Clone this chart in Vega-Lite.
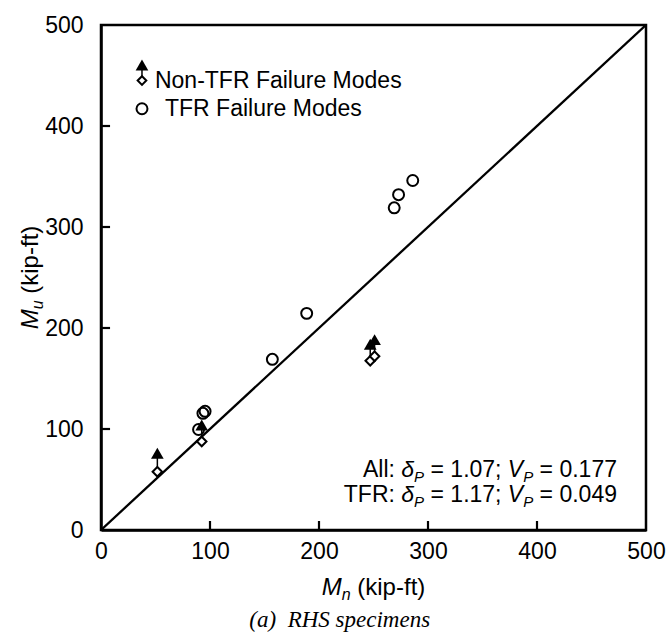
{
  "$schema": "https://vega.github.io/schema/vega-lite/v6.json",
  "width": 545,
  "height": 505,
  "autosize": {"type": "none"},
  "padding": {"left": 101, "top": 25, "right": 22, "bottom": 103},
  "background": "white",
  "config": {
    "font": "Liberation Sans",
    "view": {"stroke": "black", "strokeWidth": 2.5},
    "axis": {
      "grid": false,
      "domainColor": "black",
      "domainWidth": 2.5,
      "ticks": true,
      "tickColor": "black",
      "tickOpacity": 0,
      "tickSize": -9,
      "labelFont": "Liberation Sans",
      "labelFontSize": 23,
      "labelColor": "black",
      "labelFlush": false,
      "labelOverlap": false,
      "title": null
    },
    "axisX": {"labelPadding": 19},
    "axisY": {"labelPadding": 27}
  },
  "datasets": {
    "nontfr": [
      {"Mn": 51.7, "Mu": 57.7, "Mu_bound": 76},
      {"Mn": 92.4, "Mu": 87.6, "Mu_bound": 104},
      {"Mn": 247, "Mu": 167.5, "Mu_bound": 184},
      {"Mn": 251, "Mu": 172, "Mu_bound": 188.5}
    ],
    "tfr": [
      {"Mn": 89.5, "Mu": 99.5},
      {"Mn": 93.5, "Mu": 115.5},
      {"Mn": 95.5, "Mu": 117.5},
      {"Mn": 157.2, "Mu": 169},
      {"Mn": 188.7, "Mu": 214.5},
      {"Mn": 269, "Mu": 319},
      {"Mn": 273, "Mu": 332},
      {"Mn": 286, "Mu": 346}
    ],
    "unity": [
      {"Mn": 0, "Mu": 0},
      {"Mn": 500, "Mu": 500}
    ],
    "gridsteps": [
      {"v": 100},
      {"v": 200},
      {"v": 300},
      {"v": 400}
    ],
    "key_nontfr": [
      {"Mn": 37.6, "Mu": 445, "Mu_bound": 460.4, "label": "Non-TFR Failure Modes", "tx": 49.5}
    ],
    "key_tfr": [
      {"Mn": 37.6, "Mu": 417.1, "label": "TFR Failure Modes", "tx": 58.7}
    ],
    "stats": [
      {"group": "All:", "delta": "= 1.07;", "cov": "= 0.177", "Mu": 52.8},
      {"group": "TFR:", "delta": "= 1.17;", "cov": "= 0.049", "Mu": 28.0}
    ],
    "anchor": [{}]
  },
  "layer": [
    {
      "data": {"name": "unity"},
      "mark": {"type": "line", "color": "black", "strokeWidth": 2.3, "clip": true},
      "encoding": {
        "x": {
          "field": "Mn",
          "type": "quantitative",
          "scale": {"domain": [0, 500], "nice": false, "zero": true},
          "axis": {"values": [0, 100, 200, 300, 400, 500]}
        },
        "y": {
          "field": "Mu",
          "type": "quantitative",
          "scale": {"domain": [0, 500], "nice": false, "zero": true},
          "axis": {"values": [0, 100, 200, 300, 400, 500]}
        }
      }
    },
    {
      "data": {"name": "gridsteps"},
      "mark": {"type": "rule", "color": "black", "strokeWidth": 2.2, "strokeCap": "butt"},
      "encoding": {
        "x": {"field": "v", "type": "quantitative"},
        "y": {"datum": 0, "type": "quantitative"},
        "y2": {"datum": 8.9}
      }
    },
    {
      "data": {"name": "gridsteps"},
      "mark": {"type": "rule", "color": "black", "strokeWidth": 2.2, "strokeCap": "butt"},
      "encoding": {
        "x": {"datum": 0, "type": "quantitative"},
        "x2": {"datum": 8.3},
        "y": {"field": "v", "type": "quantitative"}
      }
    },
    {
      "data": {"name": "nontfr"},
      "mark": {"type": "rule", "color": "black", "strokeWidth": 1.5},
      "encoding": {
        "x": {"field": "Mn", "type": "quantitative"},
        "y": {"field": "Mu", "type": "quantitative"},
        "y2": {"field": "Mu_bound"}
      }
    },
    {
      "data": {"name": "nontfr"},
      "mark": {"type": "point", "shape": "diamond", "size": 90, "filled": false, "fill": "white", "fillOpacity": 1, "stroke": "black", "strokeWidth": 2, "opacity": 1},
      "encoding": {
        "x": {"field": "Mn", "type": "quantitative"},
        "y": {"field": "Mu", "type": "quantitative"}
      }
    },
    {
      "data": {"name": "nontfr"},
      "mark": {"type": "point", "shape": "triangle-up", "size": 160, "filled": true, "color": "black", "opacity": 1},
      "encoding": {
        "x": {"field": "Mn", "type": "quantitative"},
        "y": {"field": "Mu_bound", "type": "quantitative"}
      }
    },
    {
      "data": {"name": "tfr"},
      "mark": {"type": "point", "shape": "circle", "size": 120, "filled": false, "stroke": "black", "strokeWidth": 2, "opacity": 1},
      "encoding": {
        "x": {"field": "Mn", "type": "quantitative"},
        "y": {"field": "Mu", "type": "quantitative"}
      }
    },
    {
      "data": {"name": "key_nontfr"},
      "mark": {"type": "rule", "color": "black", "strokeWidth": 1.5},
      "encoding": {
        "x": {"field": "Mn", "type": "quantitative"},
        "y": {"field": "Mu", "type": "quantitative"},
        "y2": {"field": "Mu_bound"}
      }
    },
    {
      "data": {"name": "key_nontfr"},
      "mark": {"type": "point", "shape": "diamond", "size": 75, "filled": false, "fill": "white", "fillOpacity": 1, "stroke": "black", "strokeWidth": 2, "opacity": 1},
      "encoding": {
        "x": {"field": "Mn", "type": "quantitative"},
        "y": {"field": "Mu", "type": "quantitative"}
      }
    },
    {
      "data": {"name": "key_nontfr"},
      "mark": {"type": "point", "shape": "triangle-up", "size": 160, "filled": true, "color": "black", "opacity": 1},
      "encoding": {
        "x": {"field": "Mn", "type": "quantitative"},
        "y": {"field": "Mu_bound", "type": "quantitative"}
      }
    },
    {
      "data": {"name": "key_nontfr"},
      "mark": {"type": "text", "align": "left", "baseline": "middle", "fontSize": 23, "color": "black"},
      "encoding": {
        "x": {"field": "tx", "type": "quantitative"},
        "y": {"field": "Mu", "type": "quantitative"},
        "text": {"field": "label"}
      }
    },
    {
      "data": {"name": "key_tfr"},
      "mark": {"type": "point", "shape": "circle", "size": 120, "filled": false, "stroke": "black", "strokeWidth": 2, "opacity": 1},
      "encoding": {
        "x": {"field": "Mn", "type": "quantitative"},
        "y": {"field": "Mu", "type": "quantitative"}
      }
    },
    {
      "data": {"name": "key_tfr"},
      "mark": {"type": "text", "align": "left", "baseline": "middle", "fontSize": 23, "color": "black"},
      "encoding": {
        "x": {"field": "tx", "type": "quantitative"},
        "y": {"field": "Mu", "type": "quantitative"},
        "text": {"field": "label"}
      }
    },
    {
      "data": {"name": "stats"},
      "mark": {"type": "text", "align": "right", "baseline": "alphabetic", "fontSize": 23, "color": "black", "dx": 0},
      "encoding": {
        "x": {"datum": 473.4, "type": "quantitative"},
        "y": {"field": "Mu", "type": "quantitative"},
        "text": {"field": "cov"}
      }
    },
    {
      "data": {"name": "stats"},
      "mark": {"type": "text", "text": "P", "align": "right", "baseline": "alphabetic", "fontSize": 15, "fontStyle": "italic", "color": "black", "dx": -83.8, "dy": 5},
      "encoding": {
        "x": {"datum": 473.4, "type": "quantitative"},
        "y": {"field": "Mu", "type": "quantitative"}
      }
    },
    {
      "data": {"name": "stats"},
      "mark": {"type": "text", "text": "V", "align": "right", "baseline": "alphabetic", "fontSize": 23, "fontStyle": "italic", "color": "black", "dx": -93.8},
      "encoding": {
        "x": {"datum": 473.4, "type": "quantitative"},
        "y": {"field": "Mu", "type": "quantitative"}
      }
    },
    {
      "data": {"name": "stats"},
      "mark": {"type": "text", "align": "right", "baseline": "alphabetic", "fontSize": 23, "color": "black", "dx": -115.5},
      "encoding": {
        "x": {"datum": 473.4, "type": "quantitative"},
        "y": {"field": "Mu", "type": "quantitative"},
        "text": {"field": "delta"}
      }
    },
    {
      "data": {"name": "stats"},
      "mark": {"type": "text", "text": "P", "align": "right", "baseline": "alphabetic", "fontSize": 15, "fontStyle": "italic", "color": "black", "dx": -192.9, "dy": 5},
      "encoding": {
        "x": {"datum": 473.4, "type": "quantitative"},
        "y": {"field": "Mu", "type": "quantitative"}
      }
    },
    {
      "data": {"name": "stats"},
      "mark": {"type": "text", "text": "δ", "align": "right", "baseline": "alphabetic", "fontSize": 23, "fontStyle": "italic", "color": "black", "dx": -202.9},
      "encoding": {
        "x": {"datum": 473.4, "type": "quantitative"},
        "y": {"field": "Mu", "type": "quantitative"}
      }
    },
    {
      "data": {"name": "stats"},
      "mark": {"type": "text", "align": "right", "baseline": "alphabetic", "fontSize": 23, "color": "black", "dx": -222.1},
      "encoding": {
        "x": {"datum": 473.4, "type": "quantitative"},
        "y": {"field": "Mu", "type": "quantitative"},
        "text": {"field": "group"}
      }
    },
    {
      "data": {"name": "anchor"},
      "mark": {"type": "text", "text": "M", "align": "left", "baseline": "alphabetic", "fontSize": 24, "fontStyle": "italic", "color": "black", "dx": -51.8, "dy": 65},
      "encoding": {"x": {"datum": 250, "type": "quantitative"}, "y": {"datum": 0, "type": "quantitative"}}
    },
    {
      "data": {"name": "anchor"},
      "mark": {"type": "text", "text": "n", "align": "left", "baseline": "alphabetic", "fontSize": 16, "fontStyle": "italic", "color": "black", "dx": -31.8, "dy": 70},
      "encoding": {"x": {"datum": 250, "type": "quantitative"}, "y": {"datum": 0, "type": "quantitative"}}
    },
    {
      "data": {"name": "anchor"},
      "mark": {"type": "text", "text": "(kip-ft)", "align": "left", "baseline": "alphabetic", "fontSize": 24, "color": "black", "dx": -16.2, "dy": 65},
      "encoding": {"x": {"datum": 250, "type": "quantitative"}, "y": {"datum": 0, "type": "quantitative"}}
    },
    {
      "data": {"name": "anchor"},
      "mark": {"type": "text", "text": "M", "angle": 270, "align": "left", "baseline": "alphabetic", "fontSize": 24, "fontStyle": "italic", "color": "black", "dx": -51.8, "dy": -63},
      "encoding": {"x": {"datum": 0, "type": "quantitative"}, "y": {"datum": 250, "type": "quantitative"}}
    },
    {
      "data": {"name": "anchor"},
      "mark": {"type": "text", "text": "u", "angle": 270, "align": "left", "baseline": "alphabetic", "fontSize": 16, "fontStyle": "italic", "color": "black", "dx": -31.8, "dy": -58},
      "encoding": {"x": {"datum": 0, "type": "quantitative"}, "y": {"datum": 250, "type": "quantitative"}}
    },
    {
      "data": {"name": "anchor"},
      "mark": {"type": "text", "text": "(kip-ft)", "angle": 270, "align": "left", "baseline": "alphabetic", "fontSize": 24, "color": "black", "dx": -16.2, "dy": -63},
      "encoding": {"x": {"datum": 0, "type": "quantitative"}, "y": {"datum": 250, "type": "quantitative"}}
    },
    {
      "data": {"name": "anchor"},
      "mark": {"type": "text", "text": "(a)\u00a0 RHS specimens", "align": "center", "baseline": "alphabetic", "font": "Liberation Serif", "fontSize": 23, "fontStyle": "italic", "color": "black", "dy": 97},
      "encoding": {"x": {"datum": 219, "type": "quantitative"}, "y": {"datum": 0, "type": "quantitative"}}
    }
  ]
}
